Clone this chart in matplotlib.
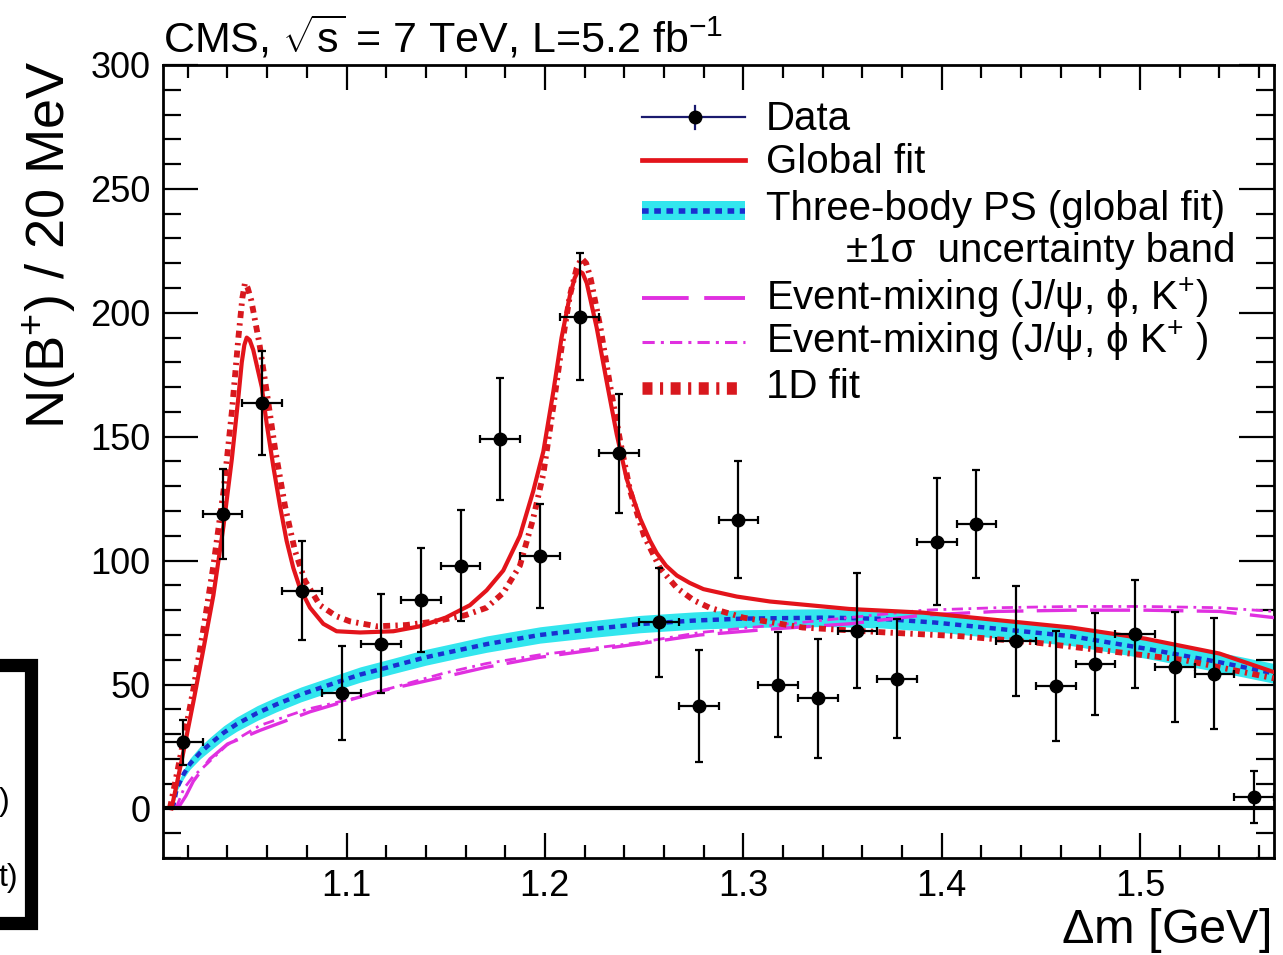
import matplotlib
matplotlib.use("Agg")
import matplotlib.pyplot as plt
from matplotlib.patches import Rectangle
from matplotlib.ticker import MultipleLocator

plt.rcParams["font.family"] = ["Liberation Sans", "DejaVu Sans"]
plt.rcParams["mathtext.fontset"] = "custom"
plt.rcParams["mathtext.rm"] = "Liberation Sans"
plt.rcParams["mathtext.it"] = "Liberation Sans:italic"
plt.rcParams["mathtext.sf"] = "Liberation Sans"

RED = "#e3141b"
RED_1D = "#d8181e"
CYAN = "#33e6ee"
BLUE = "#1a2fd0"
MAGENTA = "#e030e0"
NAVY = "#1a1a6e"

# data points (bin centres, counts, errors)
data_x = [1.0175, 1.0375, 1.0575, 1.0775, 1.0975, 1.1175, 1.1375, 1.1575, 1.1775, 1.1975,
          1.2175, 1.2375, 1.2575, 1.2775, 1.2975, 1.3175, 1.3375, 1.3575, 1.3775, 1.3975,
          1.4175, 1.4375, 1.4575, 1.4775, 1.4975, 1.5175, 1.5375, 1.5575]
data_y = [26.7, 118.8, 163.7, 87.9, 46.6, 66.5, 84.2, 98.0, 149.0, 101.8,
          198.5, 143.4, 75.1, 41.3, 116.5, 50.0, 44.4, 71.7, 52.4, 107.7,
          114.6, 67.6, 49.4, 58.4, 70.3, 57.0, 54.4, 4.5]
data_err = [9.0, 18.0, 21.0, 20.0, 19.0, 20.0, 21.0, 22.5, 24.5, 21.0,
            25.5, 24.0, 22.0, 22.5, 23.5, 21.0, 24.0, 23.3, 24.0, 25.7,
            21.8, 22.3, 22.0, 20.6, 21.8, 22.3, 22.5, 10.5]
bin_half = 0.01

# global fit
gf_x = [1.0118, 1.0150, 1.0186, 1.0228, 1.0278, 1.0329, 1.0380, 1.0422, 1.0455, 1.0472,
        1.0485, 1.0497, 1.0512, 1.0530, 1.0573, 1.0598, 1.0631, 1.0665, 1.0698, 1.0732,
        1.0765, 1.0816, 1.0883, 1.0950, 1.1068, 1.1236, 1.1370, 1.1500, 1.1622, 1.1706,
        1.1790, 1.1874, 1.1941, 1.1992, 1.2042, 1.2084, 1.2126, 1.2150, 1.2168, 1.2190,
        1.2211, 1.2261, 1.2312, 1.2362, 1.2412, 1.2480, 1.2530, 1.2564, 1.2610, 1.2665,
        1.2730, 1.2799, 1.2967, 1.3135, 1.3534, 1.3907, 1.4281, 1.4654, 1.5027, 1.5400,
        1.5675]
gf_y = [0, 12, 26, 43, 64, 86, 114, 141, 166, 180,
        187, 190, 189, 185, 170, 155, 138, 122, 108, 97,
        89, 81, 74.5, 71.5, 71, 71.5, 73.5, 77, 82, 88,
        96, 110, 128, 144, 168, 190, 207, 214, 217, 216,
        212, 194, 172, 151, 133, 117, 108, 103, 98, 94,
        91, 88.5, 85.5, 83.5, 80.5, 79, 76, 73, 68.5, 62.5,
        55]

# 1D fit
fit1d_x = [1.0110, 1.0180, 1.0228, 1.0278, 1.0329, 1.0380, 1.0422, 1.0455, 1.0475, 1.0488,
           1.0502, 1.0520, 1.0560, 1.0598, 1.0640, 1.0690, 1.0740, 1.0790, 1.0866, 1.0950,
           1.1017, 1.1152, 1.1300, 1.1450, 1.1600, 1.1706, 1.1790, 1.1874, 1.1941, 1.1992,
           1.2042, 1.2084, 1.2126, 1.2160, 1.2185, 1.2208, 1.2230, 1.2280, 1.2330, 1.2380,
           1.2430, 1.2500, 1.2580, 1.2665, 1.2750, 1.2830, 1.3000, 1.3300, 1.3721, 1.4094,
           1.4467, 1.4840, 1.5213, 1.5675]
fit1d_y = [0, 28, 48, 72, 98, 128, 160, 190, 206, 212,
           210, 205, 188, 168, 145, 122, 104, 92, 82, 77.5,
           75.5, 73.5, 74, 75.5, 78, 81, 87, 98, 117, 135,
           162, 186, 207, 218, 222, 220, 214, 194, 170, 148,
           128, 110, 97, 89, 84, 81, 77, 73, 71, 69.5,
           67, 63.5, 60, 52.5]

# three-body phase space (global fit) and its 1 sigma band half-width
ps_x = [1.0125, 1.0144, 1.0180, 1.0211, 1.0262, 1.0312, 1.0380, 1.0446, 1.0550, 1.0647,
        1.0770, 1.0899, 1.1068, 1.1235, 1.1400, 1.1572, 1.1706, 1.1975, 1.2250, 1.2480,
        1.2750, 1.3000, 1.3424, 1.3700, 1.3968, 1.4281, 1.4654, 1.5027, 1.5400, 1.5675]
ps_y = [0, 8, 14, 18, 22.5, 26, 30.5, 34, 38.5, 42,
        46, 49.5, 54, 57.5, 61, 64, 66.3, 70, 72.5, 74.4,
        75.8, 76.6, 77, 76.5, 75, 72.5, 69.5, 64.5, 59, 54.5]
ps_err = [0, 1.0, 1.8, 2.2, 2.5, 2.7, 2.8, 2.9, 3.0, 3.0,
          3.0, 3.0, 3.1, 3.1, 3.2, 3.2, 3.3, 3.3, 3.4, 3.5,
          3.5, 3.6, 3.6, 3.7, 3.7, 3.8, 3.8, 3.9, 4.0, 4.0]

# event mixing (J/psi, phi, K+)
mix3_x = [1.0150, 1.0190, 1.0228, 1.0312, 1.0400, 1.0564, 1.0816, 1.1152, 1.1487, 1.1706,
          1.1975, 1.2480, 1.2782, 1.3161, 1.3534, 1.3907, 1.4281, 1.4654, 1.5027, 1.5400, 1.5675]
mix3_y = [0, 5, 11, 20, 26, 31.5, 39, 47, 53, 57,
          61, 66.5, 70, 72.5, 74.5, 78, 79.5, 80, 80, 79.5, 77]

# event mixing (J/psi, phi K+)
mix2_x = [1.0140, 1.0180, 1.0228, 1.0277, 1.0396, 1.0564, 1.0800, 1.1068, 1.1487, 1.1706,
          1.1975, 1.2480, 1.2782, 1.3161, 1.3534, 1.3907, 1.4281, 1.4654, 1.5027, 1.5400, 1.5675]
mix2_y = [0, 8, 13, 16.5, 25.5, 33.5, 40, 45, 54.5, 58.5,
          62, 67, 71, 74, 77, 80, 81, 81.5, 81.5, 81, 79.5]

fig = plt.figure(figsize=(12.83, 9.55), dpi=100)
ax = fig.add_axes([163 / 1283, 97 / 955, 1111 / 1283, 793 / 955])

ps_lo = [y - e for y, e in zip(ps_y, ps_err)]
ps_hi = [y + e for y, e in zip(ps_y, ps_err)]
ax.fill_between(ps_x, ps_lo, ps_hi, color=CYAN, lw=0, zorder=1)
ax.plot(ps_x, ps_y, color=BLUE, lw=3.2, dashes=(1.4, 1.2), zorder=2)
ax.plot(mix3_x, mix3_y, color=MAGENTA, lw=2.4, dashes=(12, 4), zorder=3)
ax.plot(mix2_x, mix2_y, color=MAGENTA, lw=2.0, dashes=(4, 2, 1, 2), zorder=3)
ax.plot(fit1d_x, fit1d_y, color=RED_1D, lw=4.2, dashes=(1.2, 0.9, 0.4, 0.9), zorder=4)
ax.plot(gf_x, gf_y, color=RED, lw=3.0, zorder=5)
ax.axhline(0, color="black", lw=3, zorder=6)

ax.errorbar(data_x, data_y, yerr=data_err, xerr=bin_half, fmt="o", color="black",
            ms=9, elinewidth=1.6, capsize=3, capthick=1.6, zorder=7)

ax.set_xlim(1.0075, 1.5675)
ax.set_ylim(-20, 300)
ax.xaxis.set_major_locator(MultipleLocator(0.1))
ax.xaxis.set_minor_locator(MultipleLocator(0.02))
ax.yaxis.set_major_locator(MultipleLocator(50))
ax.yaxis.set_minor_locator(MultipleLocator(10))
ax.set_xticks([1.1, 1.2, 1.3, 1.4, 1.5])
ax.set_xticklabels(["1.1", "1.2", "1.3", "1.4", "1.5"])
ax.tick_params(axis="both", which="both", direction="in", top=True, right=True,
               labelsize=26, width=1.6)
ax.tick_params(axis="x", which="major", length=18, pad=8)
ax.tick_params(axis="x", which="minor", length=9.5)
ax.tick_params(axis="y", which="major", length=25, pad=9)
ax.tick_params(axis="y", which="minor", length=13)
for sp in ax.spines.values():
    sp.set_linewidth(2)

# title and axis labels
fig.text(163 / 1283, 1 - 52 / 955, r"CMS, $\sqrt{\mathrm{s}}$ = 7 TeV, L=5.2 fb$^{-1}$",
         fontsize=31, ha="left", va="baseline")
fig.text(50 / 1283, 1 - 60 / 955, r"N(B$^{+}$) / 20 MeV", fontsize=39,
         rotation=90, ha="center", va="top")
fig.text(1270 / 1283, 1 - 943 / 955, r"$\Delta$m [GeV]", fontsize=35,
         ha="right", va="baseline")


# legend, drawn by hand in pixel positions converted to axes coords
def axx(px):
    return (px - 163) / 1111


def axy(py):
    return (858 - py) / 793


tr = ax.transAxes
hx = [axx(642), axx(745)]
ax.plot(hx, [axy(117), axy(117)], color=NAVY, lw=1.6, transform=tr, clip_on=False)
ax.plot([axx(695), axx(695)], [axy(106), axy(129)], color=NAVY, lw=1.6, transform=tr)
ax.plot([axx(695)], [axy(117)], "o", color="black", ms=9, transform=tr)
ax.plot(hx, [axy(160), axy(160)], color=RED, lw=3.4, transform=tr)
ax.add_patch(Rectangle((axx(642), axy(220)), axx(745) - axx(642), axy(201) - axy(220),
                       color=CYAN, lw=0, transform=tr))
ax.plot(hx, [axy(211), axy(211)], color=BLUE, lw=4, dashes=(1.2, 1.0), transform=tr)
ax.plot(hx, [axy(298), axy(298)], color=MAGENTA, lw=2.8, dashes=(12, 4), transform=tr)
ax.plot(hx, [axy(342), axy(342)], color=MAGENTA, lw=2.2, dashes=(4, 2, 1, 2), transform=tr)
ax.plot([axx(642), axx(742)], [axy(388), axy(388)], color=RED_1D, lw=9,
        dashes=(0.8, 0.6, 0.25, 0.6), transform=tr)

leg_fs = 29
tx = axx(766)
ax.text(tx, axy(130), "Data", fontsize=leg_fs, transform=tr, va="baseline")
ax.text(tx, axy(173), "Global fit", fontsize=leg_fs, transform=tr, va="baseline")
ax.text(tx, axy(220), "Three-body PS (global fit)", fontsize=leg_fs, transform=tr, va="baseline")
ax.text(axx(1236), axy(262), "±1σ  uncertainty band", fontsize=leg_fs, transform=tr,
        va="baseline", ha="right")
ax.text(tx, axy(310), "Event-mixing (J/ψ, ϕ, K$^{+}$)", fontsize=leg_fs, transform=tr, va="baseline")
ax.text(tx, axy(353), "Event-mixing (J/ψ, ϕ K$^{+}$ )", fontsize=leg_fs, transform=tr, va="baseline")
ax.text(tx, axy(398), "1D fit", fontsize=leg_fs, transform=tr, va="baseline")

# cut-off frame of the neighbouring panel on the left
fig.add_artist(Rectangle((-0.05, 1 - 922.5 / 955), 0.05 + 30.5 / 1283, (922.5 - 664.5) / 955,
                         fill=False, lw=9.5, ec="black", transform=fig.transFigure))
fig.text(10 / 1283, 1 - 810 / 955, ")", fontsize=23, ha="right", va="baseline")
fig.text(18 / 1283, 1 - 886 / 955, "t)", fontsize=23, ha="right", va="baseline")

fig.savefig("out.png", dpi=100)
